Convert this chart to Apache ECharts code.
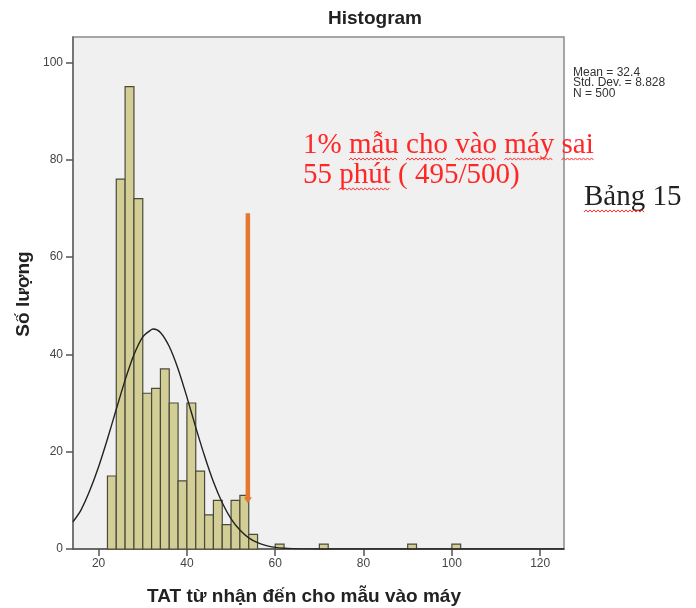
<!DOCTYPE html>
<html>
<head>
<meta charset="utf-8">
<script src="https://cdn.jsdelivr.net/npm/echarts@6/dist/echarts.min.js"></script>
<style>
  html, body { margin: 0; padding: 0; background: #ffffff; }
  #chart { width: 696px; height: 608px; }
</style>
</head>
<body>
<div id="chart"></div>
<script>
// Histogram bins: lower edge, upper edge, count (TAT in minutes)
const binLow  = [22, 24, 26, 28, 30, 32, 34, 36, 38, 40, 42, 44, 46, 48, 50, 52, 54, 60, 70, 90, 100];
const binHigh = [24, 26, 28, 30, 32, 34, 36, 38, 40, 42, 44, 46, 48, 50, 52, 54, 56, 62, 72, 92, 102];
const binCount = [15, 76, 95, 72, 32, 33, 37, 30, 14, 30, 16, 7, 10, 5, 10, 11, 3, 1, 1, 1, 1];

// Fitted normal curve, sampled along the x axis
const curveX = [14.2, 16, 18, 20, 22, 24, 26, 28, 30, 32, 32.4, 34, 36, 38, 40, 42, 44, 46, 48, 50, 52, 54, 56, 58, 60, 62, 64, 66, 70, 80, 100, 125.4];
const curveY = [5.6, 8.0, 12.0, 16.9, 22.6, 28.7, 34.7, 39.9, 43.6, 45.1, 45.2, 44.5, 41.6, 37.0, 31.2, 25.0, 19.1, 13.8, 9.5, 6.2, 3.9, 2.3, 1.3, 0.7, 0.34, 0.16, 0.07, 0.03, 0.01, 0, 0, 0];

// Orange pointer on the 55-minute group
const pointerX = [53.8, 53.8];
const pointerY = [69, 10];

// Axis ticks
const xTicks = [20, 40, 60, 80, 100, 120];
const yTicks = [0, 20, 40, 60, 80, 100];

const statsLines = ['Mean = 32.4', 'Std. Dev. = 8.828', 'N = 500'];

const chart = echarts.init(document.getElementById('chart'), null, { renderer: 'canvas' });

const sans = 'Liberation Sans, Arial, sans-serif';
const serif = 'Liberation Serif, Times New Roman, serif';
const noteSize = 29;
const noteFont = noteSize + 'px ' + serif;

// Text measuring for placing the spell-check squiggles under words
const measureCtx = document.createElement('canvas').getContext('2d');
function textWidth(str, font) {
  measureCtx.font = font;
  return measureCtx.measureText(str).width;
}

// Red wavy underline beneath one word of a text line
function squiggle(line, word, x0, baseline, font) {
  const idx = line.indexOf(word);
  const start = x0 + textWidth(line.slice(0, idx), font);
  const end = start + textWidth(word, font);
  const pts = [];
  const y = baseline + 4;
  let k = 0;
  for (let x = start; x <= end; x += 2, k++) {
    pts.push([x, y + (k % 2 === 0 ? 1.1 : -1.1)]);
  }
  return {
    type: 'polyline', silent: true,
    shape: { points: pts },
    style: { stroke: '#ff3030', lineWidth: 1, fill: null }
  };
}

// Text drawn centred on a line; the baseline sits about a third of the size below
function noteText(str, x, baseline, color) {
  return {
    type: 'text', x: x, y: baseline - noteSize * 0.33,
    style: { text: str, font: noteFont, fill: color, verticalAlign: 'middle' }
  };
}

const line1 = '1% mẫu cho vào máy sai';
const line2 = '55 phút ( 495/500)';
const line3 = 'Bảng 15';
const noteX = 303, tableX = 584;
const base1 = 155, base2 = 185, base3 = 207;

const squiggles = [
  ...['mẫu', 'cho', 'vào', 'máy', 'sai'].map(w => squiggle(line1, w, noteX, base1, noteFont)),
  squiggle(line2, 'phút', noteX, base2, noteFont),
  squiggle(line3, 'Bảng', tableX, base3, noteFont)
];

const option = {
  animation: false,
  backgroundColor: '#ffffff',
  grid: {
    left: 73, top: 37, right: 132, bottom: 59,
    show: true, backgroundColor: '#f0f0f0', borderColor: '#8a8a8a', borderWidth: 1.5
  },
  xAxis: {
    type: 'value', min: 14.2, max: 125.4,
    splitLine: { show: false },
    axisLine: { show: true, onZero: false, lineStyle: { color: '#555', width: 1.5 } },
    axisTick: { show: true, customValues: xTicks, length: 7, lineStyle: { color: '#555', width: 1.5 } },
    axisLabel: { customValues: xTicks, color: '#444', fontSize: 12, fontFamily: sans, margin: 9 }
  },
  yAxis: {
    type: 'value', min: 0, max: 105.2,
    splitLine: { show: false },
    axisLine: { show: true, lineStyle: { color: '#666', width: 1.5 } },
    axisTick: { show: true, customValues: yTicks, length: 7, lineStyle: { color: '#555', width: 1.5 } },
    axisLabel: { customValues: yTicks, color: '#444', fontSize: 12, fontFamily: sans, margin: 10 }
  },
  series: [
    {
      type: 'custom',
      name: 'Tần suất',
      data: binLow.map((lo, i) => [lo, binHigh[i], binCount[i]]),
      encode: { x: [0, 1], y: 2 },
      renderItem: function (params, api) {
        const p0 = api.coord([api.value(0), 0]);
        const p1 = api.coord([api.value(1), api.value(2)]);
        return {
          type: 'rect',
          shape: { x: p0[0], y: p1[1], width: p1[0] - p0[0], height: p0[1] - p1[1] },
          style: { fill: '#d3ce96', stroke: '#4a4a3c', lineWidth: 1.2 }
        };
      },
      z: 2
    },
    {
      type: 'line',
      name: 'Normal',
      data: curveX.map((x, i) => [x, curveY[i]]),
      smooth: 0.3,
      showSymbol: false,
      symbol: 'none',
      lineStyle: { color: '#222', width: 1.4 },
      z: 3
    },
    {
      type: 'line',
      name: 'Pointer',
      data: pointerX.map((x, i) => ({
        value: [x, pointerY[i]],
        symbol: i === pointerX.length - 1 ? 'triangle' : 'none',
        symbolSize: [8, 6],
        symbolRotate: 180
      })),
      showSymbol: true,
      itemStyle: { color: '#e4782f' },
      lineStyle: { color: '#e4782f', width: 4.5 },
      z: 4
    }
  ],
  graphic: [
    {
      type: 'text', x: 375, y: 19,
      style: { text: 'Histogram', font: 'bold 19px ' + sans, fill: '#222', align: 'center', verticalAlign: 'middle' }
    },
    {
      type: 'text', x: 304, y: 597,
      style: { text: 'TAT từ nhận đến cho mẫu vào máy', font: 'bold 19px ' + sans, fill: '#222', align: 'center', verticalAlign: 'middle' }
    },
    {
      type: 'text', x: 24, y: 294, rotation: Math.PI / 2,
      style: { text: 'Số lượng', font: 'bold 19px ' + sans, fill: '#222', align: 'center', verticalAlign: 'middle' }
    },
    {
      type: 'text', x: 573, y: 67,
      style: { text: statsLines.join('\n'), font: '12px ' + sans, fill: '#333', lineHeight: 10.5, verticalAlign: 'top' }
    },
    noteText(line1, noteX, base1, '#ff2626'),
    noteText(line2, noteX, base2, '#ff2626'),
    noteText(line3, tableX, base3, '#222'),
    ...squiggles
  ]
};

chart.setOption(option);
</script>
</body>
</html>
